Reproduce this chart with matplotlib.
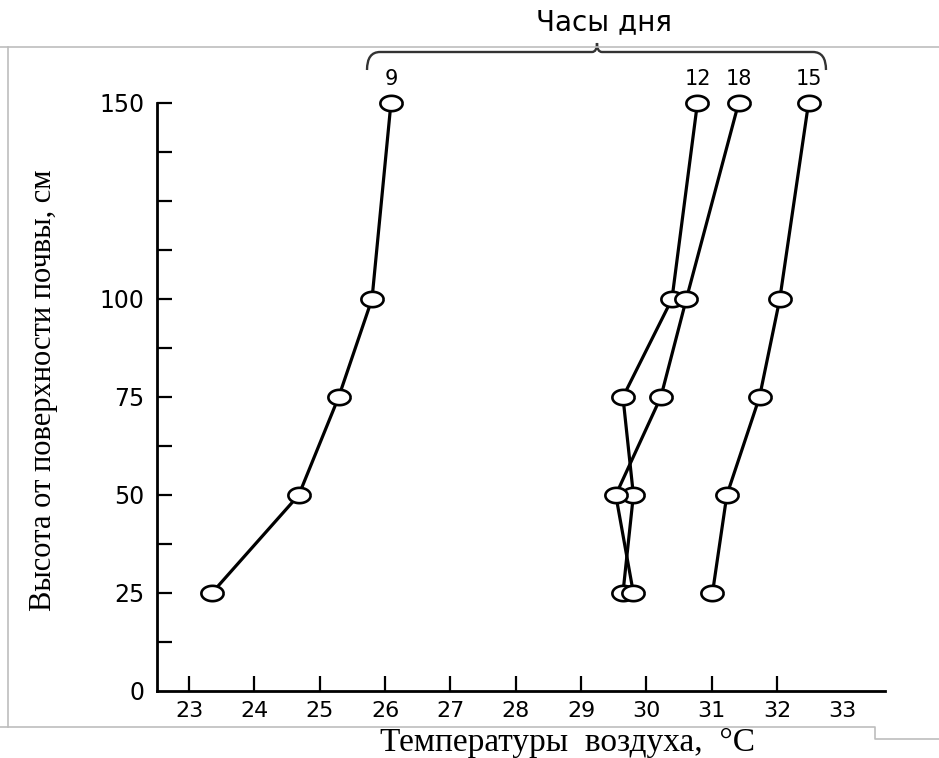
import numpy as np
import matplotlib
matplotlib.use("Agg")
import matplotlib.pyplot as plt
from matplotlib.path import Path
from matplotlib.patches import PathPatch
from matplotlib.lines import Line2D

# height above the soil surface, cm
heights = [25, 50, 75, 100, 150]

# air temperature at each height, by hour of the day
temp_9 = [23.35, 24.68, 25.29, 25.80, 26.09]
temp_12 = [29.64, 29.80, 29.64, 30.39, 30.78]
temp_18 = [29.80, 29.53, 30.22, 30.61, 31.41]
temp_15 = [31.01, 31.23, 31.73, 32.04, 32.48]
hour_names = ["9", "12", "18", "15"]

x_ticks = list(range(23, 34))
y_ticks = [0, 12.5, 25, 37.5, 50, 62.5, 75, 87.5, 100, 112.5, 125, 137.5, 150]
y_tick_labels = ["0", "", "25", "", "50", "", "75", "", "100", "", "", "", "150"]

W, H = 939, 758


def px(x, y):
    # pixel position -> figure fraction
    return x / W, 1 - y / H


fig = plt.figure(figsize=(W / 100, H / 100), dpi=100)
l, b = px(157, 691)
r, t = px(885, 103)
ax = fig.add_axes([l, b, r - l, t - b])

# slightly flattened circle for the markers
th = np.linspace(0, 2 * np.pi, 73)
oval = Path(np.column_stack([1.45 * np.cos(th), np.sin(th)]))

series = [temp_9, temp_12, temp_18, temp_15]
for temps in series:
    ax.plot(temps, heights, color="black", lw=2.3, zorder=2, clip_on=False)
for temps in series:
    ax.plot(temps, heights, ls="none", marker=oval, ms=16, mfc="white",
            mec="black", mew=1.9, zorder=3, clip_on=False)
for temps, name in zip(series, hour_names):
    ax.annotate(name, (temps[-1], heights[-1]), xytext=(0, 10),
                textcoords="offset points", ha="center", va="bottom",
                fontsize=15, family="DejaVu Sans")

ax.set_xlim(22.51, 33.65)
ax.set_ylim(0, 150)
for side in ("top", "right"):
    ax.spines[side].set_visible(False)
for side in ("left", "bottom"):
    ax.spines[side].set_linewidth(2.0)

ax.set_xticks(x_ticks)
ax.set_xticklabels([str(v) for v in x_ticks])
ax.set_yticks(y_ticks)
ax.set_yticklabels(y_tick_labels)
ax.tick_params(direction="in", length=11, width=1.6, labelsize=17, pad=9)
ax.tick_params(axis="x", labelsize=16, pad=7)
ax.xaxis.get_major_ticks()[-1].tick1line.set_visible(False)
ax.yaxis.get_major_ticks()[0].tick1line.set_visible(False)
for lab in ax.get_xticklabels() + ax.get_yticklabels():
    lab.set_family("DejaVu Sans")

# axis titles
fig.text(*px(44, 390), "Высота от поверхности почвы, см", rotation=90,
         ha="center", va="center", fontsize=22, family="Liberation Serif")
fig.text(*px(567, 751), "Температуры  воздуха,  °С", ha="center",
         va="baseline", fontsize=24, family="Liberation Serif")

# brace over the hour labels
fig.text(*px(604, 22), "Часы дня", ha="center", va="center",
         fontsize=20, family="DejaVu Sans")
brace = [(367, 70), (367, 52), (380, 52), (592, 52), (597, 52), (597, 43),
         (597, 52), (602, 52), (813, 52), (826, 52), (826, 70)]
codes = [Path.MOVETO, Path.CURVE3, Path.CURVE3, Path.LINETO, Path.CURVE3,
         Path.CURVE3, Path.CURVE3, Path.CURVE3, Path.LINETO, Path.CURVE3,
         Path.CURVE3]
brace_path = Path([px(x, y) for x, y in brace], codes)
fig.add_artist(PathPatch(brace_path, fill=False, lw=1.7, ec="#333333",
                         transform=fig.transFigure))

# thin grey frame around the plot
frame = dict(color="#bdbdbd", lw=1.2, transform=fig.transFigure)
fig.add_artist(Line2D(*zip(px(0, 47), px(939, 47)), **frame))
fig.add_artist(Line2D(*zip(px(8, 47), px(8, 727)), **frame))
fig.add_artist(Line2D(*zip(px(0, 727), px(875, 727), px(875, 739),
                           px(939, 739)), **frame))

fig.savefig("out.png", dpi=100, facecolor="white")
